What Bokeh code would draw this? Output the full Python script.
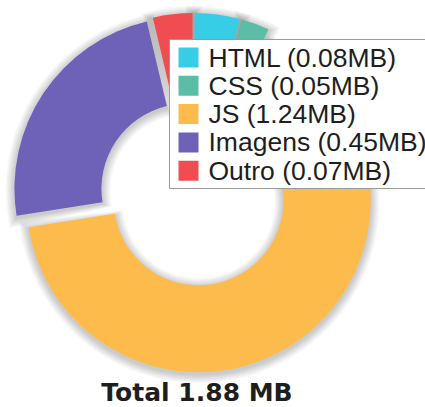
import math
from bokeh.plotting import figure
from bokeh.models import ColumnDataSource, Range1d
from bokeh.core.properties import value
from bokeh.embed import file_html
from bokeh.resources import INLINE

# ---- data ----
categories = ["HTML", "CSS", "JS", "Imagens", "Outro"]
sizes_mb = [0.08, 0.05, 1.24, 0.45, 0.07]
colors = ["#38CDE6", "#5BBDA6", "#FDBB4B", "#6E62B8", "#EF4D51"]
legend_labels = [f"{c} ({s:.2f}MB)" for c, s in zip(categories, sizes_mb)]
total_label = "Total 1.88 MB"

# ---- layout (reference pixel space, y downward as negative data y) ----
W, H = 425, 407
CX, CY = 193, 193
R_OUT, R_IN = 172, 85
EXPLODE = 8.5
LEG_LEFT, LEG_TOP, LEG_BOTTOM = 169, 39, 188
LEG_ROW0, LEG_ROW_H = 57, 28.3
SW_X, SW_SIZE, TXT_X = 188, 20, 208

total = sum(sizes_mb)
starts, ends, xs, ys = [], [], [], []
cum = 0.0
for s in sizes_mb:
    a0 = math.pi / 2 - 2 * math.pi * cum / total
    cum += s
    a1 = math.pi / 2 - 2 * math.pi * cum / total
    mid = (a0 + a1) / 2
    starts.append(a0)
    ends.append(a1)
    xs.append(CX + EXPLODE * math.cos(mid))
    ys.append(-CY + EXPLODE * math.sin(mid))

src = ColumnDataSource(dict(x=xs, y=ys, start=starts, end=ends, color=colors,
                            label=legend_labels))

p = figure(width=W, height=H, x_range=Range1d(0, W), y_range=Range1d(-H, 0),
           output_backend="svg", toolbar_location=None, min_border=0,
           x_axis_location=None, y_axis_location=None, outline_line_color=None,
           background_fill_color="white", border_fill_color="white")
p.xgrid.grid_line_color = None
p.ygrid.grid_line_color = None

# soft shadow halo
for k in range(1, 10):
    d = k / R_OUT
    hs = ColumnDataSource(dict(x=xs, y=[v - 2 for v in ys],
                               start=[a + d for a in starts],
                               end=[a - d for a in ends]))
    p.annular_wedge(x="x", y="y", inner_radius=R_IN - k, outer_radius=R_OUT + k,
                    start_angle="start", end_angle="end", direction="clock",
                    fill_color="black", fill_alpha=0.024, line_color=None,
                    source=hs)

p.annular_wedge(x="x", y="y", inner_radius=R_IN, outer_radius=R_OUT,
                start_angle="start", end_angle="end", direction="clock",
                fill_color="color", line_color=None, source=src)

# legend box
p.quad(left=[LEG_LEFT], right=[W + 10], top=[-LEG_TOP], bottom=[-LEG_BOTTOM],
       fill_color="white", line_color="#9a9a9a", line_width=1)

leg_src = ColumnDataSource(dict(
    y=[-(LEG_ROW0 + LEG_ROW_H * i) for i in range(len(categories))],
    color=colors, label=legend_labels))
p.rect(x=SW_X, y="y", width=SW_SIZE, height=SW_SIZE, fill_color="color",
       line_color=None, source=leg_src)
p.text(x=TXT_X, y="y", text="label", text_font=value("Liberation Sans"),
       text_font_size="26.5px", text_baseline="middle", text_align="left",
       text_color="#1e1e1e", source=leg_src)

p.text(x=[196.5], y=[-377], text=[total_label], text_font=value("DejaVu Sans"),
       text_font_style="bold", text_font_size="25px", text_align="center",
       text_baseline="top", text_color="#1e1e1e")

open("out.html", "w").write(file_html(p, INLINE))
